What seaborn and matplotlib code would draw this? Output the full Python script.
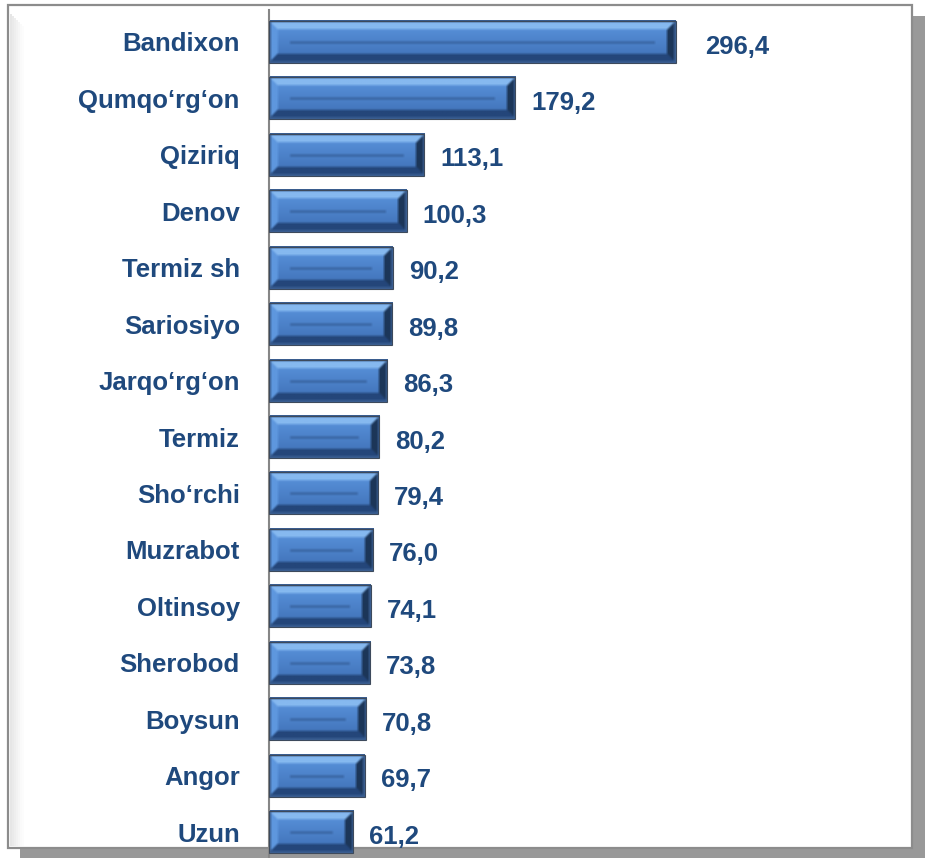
import numpy as np
import pandas as pd
import matplotlib
matplotlib.use("Agg")
import matplotlib.pyplot as plt
import seaborn as sns
from matplotlib.patches import Rectangle
from matplotlib.colors import to_rgb

categories = ["Bandixon", "Qumqo‘rg‘on", "Qiziriq", "Denov", "Termiz sh", "Sariosiyo",
              "Jarqo‘rg‘on", "Termiz", "Sho‘rchi", "Muzrabot", "Oltinsoy", "Sherobod",
              "Boysun", "Angor", "Uzun"]
values = [296.4, 179.2, 113.1, 100.3, 90.2, 89.8, 86.3, 80.2, 79.4, 76.0, 74.1, 73.8,
          70.8, 69.7, 61.2]
value_labels = ["296,4", "179,2", "113,1", "100,3", "90,2", "89,8", "86,3", "80,2",
                "79,4", "76,0", "74,1", "73,8", "70,8", "69,7", "61,2"]
label_offsets_pt = [21] + [11.5] * 14

sns.set_theme(style="white")
plt.rcParams['font.family'] = ['Liberation Sans', 'DejaVu Sans']

W, H = 925, 858
fig = plt.figure(figsize=(W / 100, H / 100), dpi=100)
fig.patch.set_facecolor("white")

def fr(x0, y0, x1, y1, **kw):
    r = Rectangle((x0 / W, 1 - y1 / H), (x1 - x0) / W, (y1 - y0) / H,
                  transform=fig.transFigure, zorder=-10, **kw)
    fig.patches.append(r)
    return r

# shadow and frame
fr(20, 16, 925, 858, facecolor="#999999", edgecolor="none")
fr(8, 5, 912, 848, facecolor="white", edgecolor="#8c8c8c", linewidth=1.6)
for k, a in enumerate([0.45, 0.38, 0.3, 0.22, 0.15, 0.09, 0.05]):
    fr(10 + k * 2, 14 + k * 2, 12 + k * 2, 846, facecolor="#c8c8c8", edgecolor="none", alpha=a)

ax = fig.add_axes([269 / W, 0, 455 / W, 1 - 10 / H])
ax.patch.set_alpha(0)

df = pd.DataFrame({"cat": categories, "val": values})
sns.barplot(data=df, x="val", y="cat", orient="h", color="#4F86D0", width=0.745,
            ax=ax, saturation=1)
ax.set_xlim(0, 455 / 1.373)
ax.set_ylim(14.46, -0.567)

for s in ["top", "right", "bottom"]:
    ax.spines[s].set_visible(False)
ax.spines["left"].set_color("#868686")
ax.spines["left"].set_linewidth(1.5)
ax.set_xticks([])
ax.set_xlabel("")
ax.set_ylabel("")
ax.tick_params(axis="y", length=0, pad=21)
for t in ax.get_yticklabels():
    t.set_fontsize(18.5)
    t.set_fontweight("bold")
    t.set_color("#1F497D")

def c(h):
    return np.array(to_rgb(h))

top_c = c("#86B9F0")
bot_c = c("#24467A")
left_c = c("#5E97DE")
right_c = c("#1C3659")
ctr_top = c("#5B95DF")
ctr_bot = c("#3E6FB4")
line_c = c("#36609C")

def blur(img, r=1):
    out = img.copy()
    for axis in (0, 1):
        pad = [(0, 0)] * 3
        pad[axis] = (r, r)
        p = np.pad(out, pad, mode="edge")
        acc = np.zeros_like(out)
        n = out.shape[axis]
        for k in range(2 * r + 1):
            sl = [slice(None)] * 3
            sl[axis] = slice(k, k + n)
            acc += p[tuple(sl)]
        out = acc / (2 * r + 1)
    return out

fig.canvas.draw()
for p in list(ax.patches):
    x0, y0 = p.get_x(), p.get_y()
    w, h = p.get_width(), p.get_height()
    (px0, py0), (px1, py1) = ax.transData.transform([(x0, y0), (x0 + w, y0 + h)])
    Wp = max(int(round(abs(px1 - px0))), 4)
    Hp = max(int(round(abs(py1 - py0))), 4)
    rows = np.arange(Hp)[:, None] * np.ones((1, Wp))
    cols = np.ones((Hp, 1)) * np.arange(Wp)[None, :]
    dt, db = rows, Hp - 1 - rows
    dl, dr = cols, Wp - 1 - cols
    b = 9
    img = np.zeros((Hp, Wp, 3))
    f = (rows / (Hp - 1))[..., None]
    img[:] = ctr_top * (1 - f) + ctr_bot * f
    stack = np.stack([dt, db, dl, dr], axis=-1)
    m = stack.min(axis=-1)
    idx = stack.argmin(axis=-1)
    bev = m < b
    for k, col in enumerate([top_c, bot_c, left_c, right_c]):
        sel = bev & (idx == k)
        img[sel] = col
    edge = (m < 1.5)
    img[edge] = c("#3A5F92")
    mid = Hp // 2
    l0, l1 = b + 12, Wp - b - 12
    if l1 > l0:
        img[mid:mid + 2, l0:l1] = line_c
    img = blur(img, 1)
    p.set_visible(False)
    ax.imshow(img, extent=(x0, x0 + w, y0 + h, y0), origin="upper",
              aspect="auto", interpolation="bilinear", zorder=2)
    ax.add_patch(Rectangle((x0, y0), w, h, fill=False, edgecolor="#3d4a5c",
                           linewidth=0.8, zorder=3))

ax.set_xlim(0, 455 / 1.373)
ax.set_ylim(14.46, -0.567)

for i, (v, lab) in enumerate(zip(values, value_labels)):
    ax.annotate(lab, xy=(v, i), xytext=(label_offsets_pt[i], -1.5), textcoords="offset points",
                ha="left", va="center_baseline", fontsize=18.5, fontweight="bold",
                color="#1F497D")

fig.savefig("out.png", dpi=100)
